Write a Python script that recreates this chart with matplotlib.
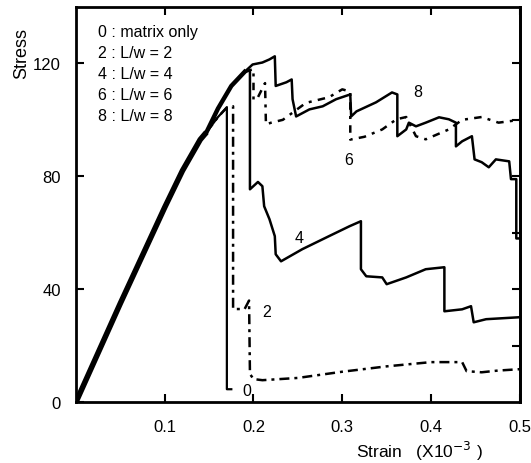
import matplotlib.pyplot as plt

plt.rcParams['font.family'] = ['Liberation Sans', 'DejaVu Sans']

# shared elastic rise
rise_x = [0.0, 0.05, 0.10, 0.12, 0.14, 0.147]
rise_y = [0.0, 35.0, 69.0, 82.0, 93.0, 95.6]

# upper branch (fibre reinforced curves)
upper_x = [0.147, 0.16, 0.175, 0.19]
upper_y = [95.6, 104.0, 112.0, 117.0]

# 0 : matrix only
m0_x = [0.147, 0.16, 0.170, 0.170, 0.175]
m0_y = [95.6, 101.0, 104.4, 4.6, 4.6]

# 2 : L/w = 2
m2_x = [0.147, 0.16, 0.170, 0.177, 0.177, 0.19, 0.195, 0.196, 0.20, 0.21,
        0.25, 0.30, 0.35, 0.40, 0.435, 0.44, 0.457, 0.475, 0.50]
m2_y = [95.6, 101.0, 104.4, 104.8, 33.0, 33.0, 36.0, 10.0, 8.2, 7.8,
        8.6, 10.8, 12.7, 14.2, 14.2, 11.0, 10.6, 11.2, 11.7]

# 4 : L/w = 4
m4_x = [0.19, 0.196, 0.196, 0.205, 0.210, 0.212, 0.218, 0.224, 0.225, 0.231,
        0.255, 0.285, 0.308, 0.321, 0.321, 0.327, 0.345, 0.35, 0.372, 0.394,
        0.415, 0.415, 0.435, 0.445, 0.448, 0.462, 0.50]
m4_y = [117.0, 117.5, 75.4, 78.0, 76.5, 69.4, 64.8, 58.8, 52.4, 49.9,
        54.2, 58.8, 62.3, 64.1, 47.1, 44.6, 44.2, 41.8, 44.2, 47.1,
        47.8, 32.2, 32.9, 34.0, 28.3, 29.4, 30.1]

# 6 : L/w = 6
m6_x = [0.19, 0.200, 0.200, 0.205, 0.213, 0.214, 0.22, 0.233, 0.259, 0.285,
        0.300, 0.309, 0.309, 0.325, 0.345, 0.361, 0.372, 0.383, 0.394, 0.42,
        0.435, 0.457, 0.476, 0.50]
m6_y = [117.0, 118.0, 107.0, 108.0, 113.0, 98.4, 99.0, 100.0, 106.0, 108.0,
        110.8, 110.0, 93.0, 94.0, 96.6, 100.2, 101.0, 94.2, 93.1, 96.6,
        100.0, 101.0, 99.0, 100.0]

# 8 : L/w = 8
m8_x = [0.19, 0.199, 0.21, 0.218, 0.224, 0.225, 0.237, 0.243, 0.244, 0.248,
        0.263, 0.278, 0.293, 0.309, 0.310, 0.316, 0.338, 0.356, 0.362, 0.362,
        0.372, 0.375, 0.383, 0.394, 0.409, 0.42, 0.428, 0.428, 0.435, 0.446,
        0.449, 0.457, 0.465, 0.473, 0.488, 0.490, 0.496, 0.496, 0.50]
m8_y = [117.0, 119.6, 120.3, 121.4, 122.5, 112.0, 113.3, 114.3, 107.3, 101.2,
        103.7, 104.8, 107.3, 109.0, 101.2, 103.0, 106.2, 109.7, 109.0, 94.2,
        96.6, 99.0, 97.7, 99.0, 100.9, 100.2, 99.0, 90.6, 92.4, 94.2,
        86.0, 85.0, 83.2, 86.0, 85.3, 79.0, 79.0, 58.0, 58.0]

legend_lines = ['0 : matrix only', '2 : L/w = 2', '4 : L/w = 4',
                '6 : L/w = 6', '8 : L/w = 8']
curve_labels = [('0', 0.188, 4.0), ('2', 0.21, 32.0), ('4', 0.246, 58.5),
                ('6', 0.302, 86.0), ('8', 0.38, 110.0)]

fig = plt.figure(figsize=(5.31, 4.64), dpi=100)
ax = fig.add_axes([0.143, 0.131, 0.836, 0.852])

k = 'black'
ax.plot(rise_x, rise_y, color=k, lw=4.0, solid_capstyle='butt')
ax.plot(upper_x, upper_y, color=k, lw=3.2)
ax.plot(m0_x, m0_y, color=k, lw=1.6)
ax.plot(m2_x, m2_y, color=k, lw=1.8, linestyle=(0, (4, 2, 1.2, 2)))
ax.plot(m4_x, m4_y, color=k, lw=1.8)
ax.plot(m6_x, m6_y, color=k, lw=1.8, linestyle=(0, (3, 2.5, 1.2, 2.5)))
ax.plot(m8_x, m8_y, color=k, lw=1.8)

for txt, x, y in curve_labels:
    ax.text(x, y, txt, fontsize=11.5, ha='left', va='center')

for i, line in enumerate(legend_lines):
    ax.text(0.05, 0.937 - i * 0.053, line, transform=ax.transAxes,
            fontsize=11.5, ha='left', va='center')

ax.set_xlim(0, 0.5)
ax.set_ylim(0, 140)
ax.set_xticks([0.1, 0.2, 0.3, 0.4, 0.5])
ax.set_xticklabels(['0.1', '0.2', '0.3', '0.4', '0.5'])
ax.set_yticks([0, 40, 80, 120])
ax.tick_params(direction='in', length=6, width=1.5, labelsize=12, top=True)
ax.tick_params(axis='x', pad=12)
ax.tick_params(axis='y', pad=11)
for s in ax.spines.values():
    s.set_linewidth(2.0)

sec = ax.secondary_yaxis('right')
sec.set_yticks([20, 40, 60, 80, 100, 120])
sec.tick_params(direction='in', length=6, width=1.5, labelright=False)
sec.spines['right'].set_linewidth(2.0)

fig.text(0.04, 0.885, 'Stress', rotation=90, fontsize=13, ha='center',
         va='center')
fig.text(0.67, 0.028, 'Strain   (X10$^{-3}$ )', fontsize=12.5, ha='left',
         va='center')

fig.savefig('out.png', dpi=100)
